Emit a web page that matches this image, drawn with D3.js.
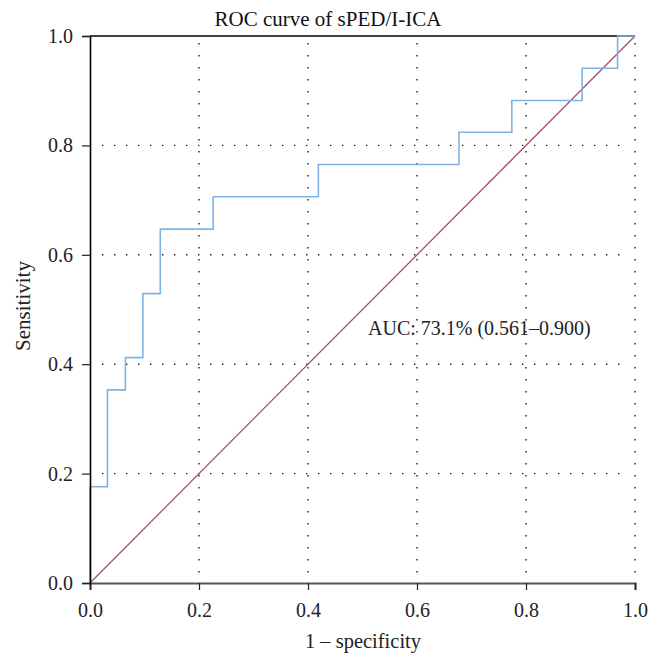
<!DOCTYPE html>
<html><head><meta charset="utf-8">
<script src="https://cdn.jsdelivr.net/npm/d3@7"></script>
<style>body{margin:0;background:#fff;}svg{display:block;}</style>
</head><body>
<script>
const fpr = [0, 0, 0.032, 0.065, 0.097, 0.129, 0.226, 0.419, 0.677, 0.774, 0.903, 0.968, 1.0];
const tpr = [0, 0.176, 0.353, 0.412, 0.529, 0.647, 0.706, 0.765, 0.824, 0.882, 0.941, 1.0, 1.0];
const ticks = [0, 0.2, 0.4, 0.6, 0.8, 1.0];
const gridVals = [0.2, 0.4, 0.6, 0.8];
const title = "ROC curve of sPED/I-ICA";
const auc = "AUC: 73.1% (0.561–0.900)";

const W = 650, H = 656;
const m = {l: 90, r: 15, t: 36, b: 73};
const svg = d3.select("body").append("svg").attr("width", W).attr("height", H);
const x = d3.scaleLinear().domain([0, 1]).range([m.l, W - m.r]);
const y = d3.scaleLinear().domain([0, 1]).range([H - m.b, m.t]);
const font = "'Liberation Serif', 'DejaVu Serif', serif";

// grid
svg.append("g").selectAll("line").data(gridVals).join("line")
  .attr("x1", x(0) + 12).attr("x2", x(1) - 6)
  .attr("y1", d => y(d)).attr("y2", d => y(d))
  .attr("stroke", "#222").attr("stroke-width", 1.4).attr("stroke-dasharray", "1.4,10.6");
svg.append("g").selectAll("line").data(gridVals.concat([1.0])).join("line")
  .attr("x1", d => x(d)).attr("x2", d => x(d))
  .attr("y1", y(1) + 7).attr("y2", y(0) - 2)
  .attr("stroke", "#222").attr("stroke-width", 1.4).attr("stroke-dasharray", "1.4,10.6");

// top border
svg.append("line").attr("x1", x(0)).attr("x2", x(1)).attr("y1", y(1)).attr("y2", y(1))
  .attr("stroke", "#000").attr("stroke-width", 1.5);

// diagonal
svg.append("line").attr("x1", x(0)).attr("y1", y(0)).attr("x2", x(1)).attr("y2", y(1))
  .attr("stroke", "#a4516f").attr("stroke-width", 1.3);

// ROC curve
const pts = fpr.map((f, i) => [f, tpr[i]]);
svg.append("path").datum(pts)
  .attr("d", d3.line().x(d => x(d[0])).y(d => y(d[1])).curve(d3.curveStepAfter))
  .attr("fill", "none").attr("stroke", "#7fb3e3").attr("stroke-width", 1.6);

// axes
const xAxis = svg.append("g").attr("transform", `translate(0,${y(0)})`)
  .call(d3.axisBottom(x).tickValues(ticks).tickFormat(d3.format(".1f")).tickSize(7).tickPadding(13));
xAxis.select(".domain").attr("stroke", "#555").attr("stroke-width", 2.2);
xAxis.selectAll(".tick line").attr("stroke", "#222").attr("stroke-width", 1.2);
xAxis.selectAll("text").attr("font-family", font).attr("font-size", 20).attr("fill", "#222");

const yAxis = svg.append("g").attr("transform", `translate(${x(0)},0)`)
  .call(d3.axisLeft(y).tickValues(ticks).tickFormat(d3.format(".1f")).tickSize(8).tickPadding(9));
yAxis.select(".domain").attr("stroke", "#000").attr("stroke-width", 1.6);
yAxis.selectAll(".tick line").attr("stroke", "#222").attr("stroke-width", 1.2);
yAxis.selectAll("text").attr("font-family", font).attr("font-size", 20).attr("fill", "#222");

// texts
svg.append("text").attr("x", 328).attr("y", 26).attr("text-anchor", "middle")
  .attr("font-family", font).attr("font-size", 21).attr("fill", "#111").text(title);
svg.append("text").attr("x", 363).attr("y", 648).attr("text-anchor", "middle")
  .attr("font-family", font).attr("font-size", 20.5).attr("fill", "#222").text("1 – specificity");
svg.append("text").attr("transform", `translate(30,306) rotate(-90)`)
  .attr("text-anchor", "middle").attr("font-family", font).attr("font-size", 21).attr("fill", "#222")
  .text("Sensitivity");
svg.append("text").attr("x", 368).attr("y", 335)
  .attr("font-family", font).attr("font-size", 20).attr("fill", "#222").text(auc);
</script>
</body></html>
